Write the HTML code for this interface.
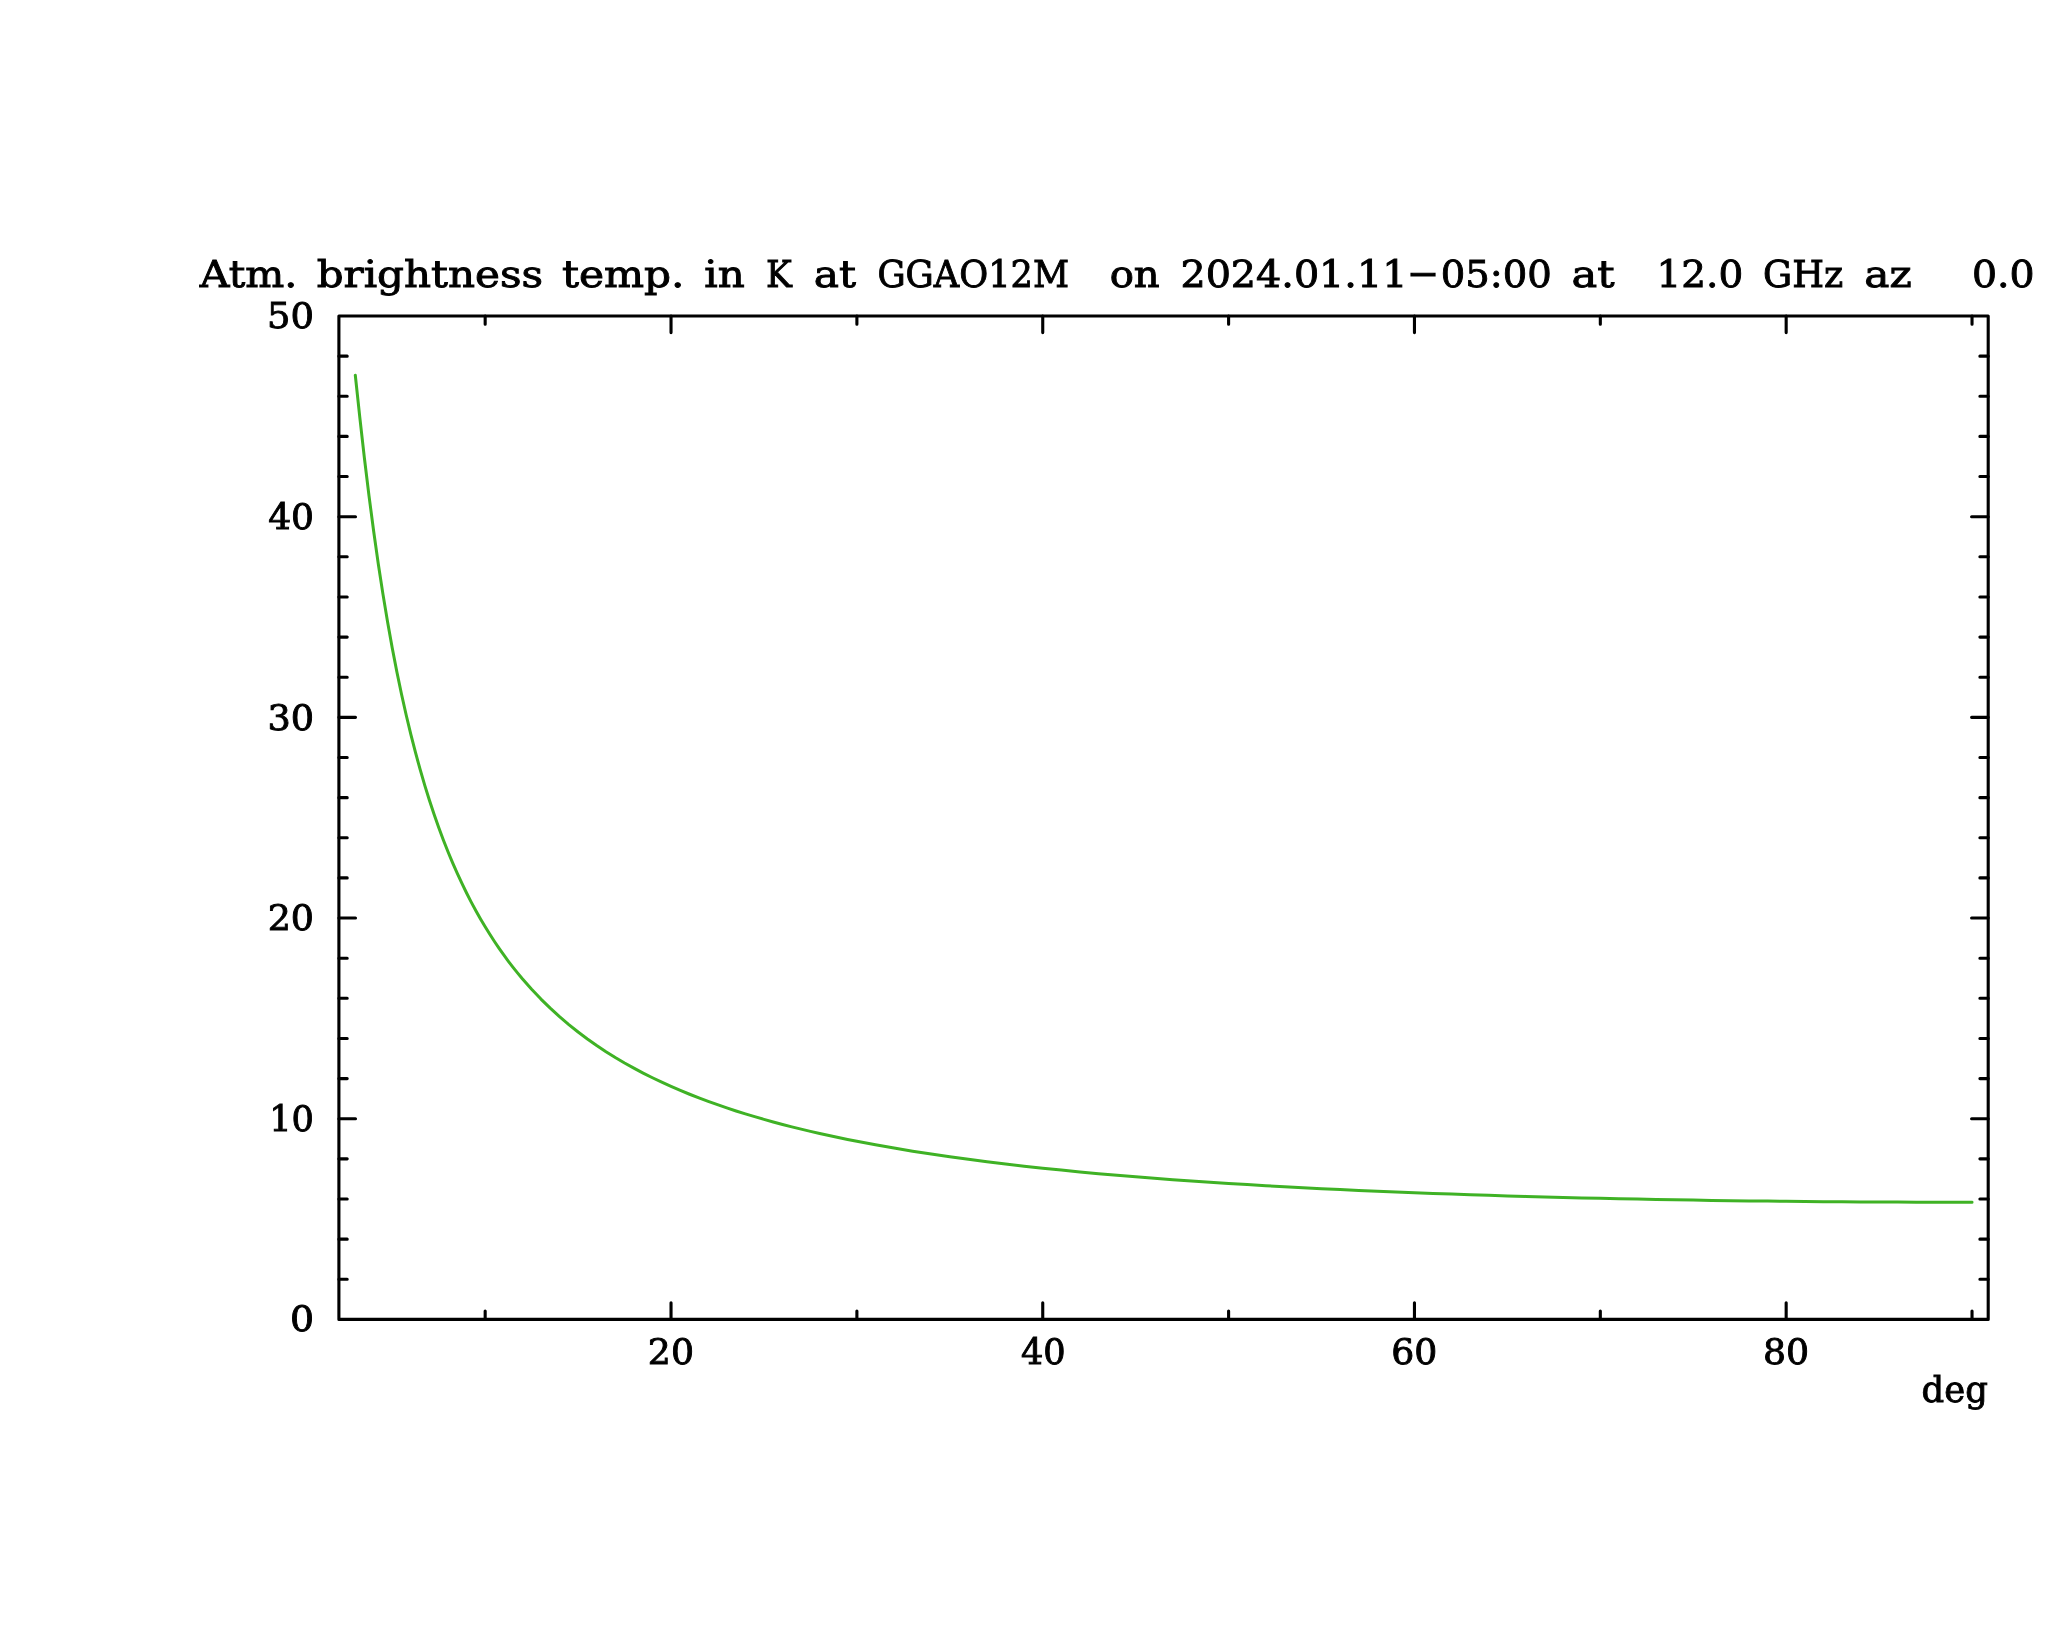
<!DOCTYPE html>
<html lang="en"><head><meta charset="utf-8"><title>Atm. brightness temp.</title>
<style>
html,body{margin:0;padding:0;background:#fff}
svg{display:block;will-change:transform}
text{font-family:"DejaVu Serif", "Liberation Serif", serif;fill:#000;white-space:pre}
.ax{stroke:#000;stroke-width:3.1;stroke-linecap:round;stroke-linejoin:round;fill:none}
.cv{stroke:#3fb225;stroke-width:3.0;stroke-linecap:round;stroke-linejoin:round;fill:none}
</style></head><body>
<svg width="2048" height="1635" viewBox="0 0 2048 1635" role="img" aria-label="Atmospheric brightness temperature versus elevation">
<rect width="2048" height="1635" fill="#fff"/>
<path class="ax" d="M338.90 316.00H1988.20V1319.40H338.90Z"/>
<path class="ax" d="M485.17 1319.40v-8.30M485.17 316.00v8.30M671.03 1319.40v-16.60M671.03 316.00v16.60M856.89 1319.40v-8.30M856.89 316.00v8.30M1042.74 1319.40v-16.60M1042.74 316.00v16.60M1228.60 1319.40v-8.30M1228.60 316.00v8.30M1414.46 1319.40v-16.60M1414.46 316.00v16.60M1600.32 1319.40v-8.30M1600.32 316.00v8.30M1786.17 1319.40v-16.60M1786.17 316.00v16.60M1972.03 1319.40v-8.30M1972.03 316.00v8.30M338.90 1279.26h8.30M1988.20 1279.26h-8.30M338.90 1239.13h8.30M1988.20 1239.13h-8.30M338.90 1198.99h8.30M1988.20 1198.99h-8.30M338.90 1158.86h8.30M1988.20 1158.86h-8.30M338.90 1118.72h16.60M1988.20 1118.72h-16.60M338.90 1078.58h8.30M1988.20 1078.58h-8.30M338.90 1038.45h8.30M1988.20 1038.45h-8.30M338.90 998.31h8.30M1988.20 998.31h-8.30M338.90 958.18h8.30M1988.20 958.18h-8.30M338.90 918.04h16.60M1988.20 918.04h-16.60M338.90 877.90h8.30M1988.20 877.90h-8.30M338.90 837.77h8.30M1988.20 837.77h-8.30M338.90 797.63h8.30M1988.20 797.63h-8.30M338.90 757.50h8.30M1988.20 757.50h-8.30M338.90 717.36h16.60M1988.20 717.36h-16.60M338.90 677.22h8.30M1988.20 677.22h-8.30M338.90 637.09h8.30M1988.20 637.09h-8.30M338.90 596.95h8.30M1988.20 596.95h-8.30M338.90 556.82h8.30M1988.20 556.82h-8.30M338.90 516.68h16.60M1988.20 516.68h-16.60M338.90 476.54h8.30M1988.20 476.54h-8.30M338.90 436.41h8.30M1988.20 436.41h-8.30M338.90 396.27h8.30M1988.20 396.27h-8.30M338.90 356.14h8.30M1988.20 356.14h-8.30"/>
<polyline class="cv" points="355.30,375.24 359.72,416.70 364.36,457.73 369.01,495.89 373.66,531.24 378.30,563.93 382.95,594.14 387.59,622.09 392.24,647.97 396.89,671.98 401.53,694.28 406.18,715.04 410.83,734.40 415.47,752.49 420.12,769.42 424.77,785.30 429.41,800.21 434.06,814.23 438.71,827.45 443.35,839.93 448.00,851.71 452.64,862.87 457.29,873.45 461.94,883.48 466.58,893.01 471.23,902.08 475.88,910.72 480.52,918.96 485.17,926.81 489.82,934.32 494.46,941.50 499.11,948.37 503.76,954.95 508.40,961.27 513.05,967.32 517.69,973.14 522.34,978.73 531.63,989.28 540.93,999.06 550.22,1008.17 559.51,1016.65 568.81,1024.58 578.10,1032.00 587.39,1038.96 596.68,1045.51 605.98,1051.67 615.27,1057.48 624.56,1062.98 633.86,1068.17 643.15,1073.09 652.44,1077.76 661.73,1082.19 671.03,1086.41 680.32,1090.42 689.61,1094.25 698.91,1097.90 708.20,1101.38 717.49,1104.71 726.78,1107.90 736.08,1110.95 745.37,1113.88 754.66,1116.68 763.96,1119.37 773.25,1121.96 782.54,1124.45 791.83,1126.84 801.13,1129.14 810.42,1131.35 819.71,1133.49 829.01,1135.55 838.30,1137.53 847.59,1139.45 856.89,1141.30 875.47,1144.82 894.06,1148.10 912.64,1151.18 931.23,1154.07 949.81,1156.79 968.40,1159.34 986.99,1161.75 1005.57,1164.02 1024.16,1166.16 1042.74,1168.19 1061.33,1170.11 1079.91,1171.92 1098.50,1173.64 1117.09,1175.27 1135.67,1176.82 1154.26,1178.29 1172.84,1179.69 1191.43,1181.02 1210.01,1182.28 1228.60,1183.48 1247.19,1184.62 1265.77,1185.71 1284.36,1186.75 1302.94,1187.73 1321.53,1188.67 1340.11,1189.57 1358.70,1190.42 1377.29,1191.23 1395.87,1192.00 1414.46,1192.74 1433.04,1193.43 1451.63,1194.10 1470.21,1194.73 1488.80,1195.33 1507.39,1195.90 1525.97,1196.43 1544.56,1196.94 1563.14,1197.43 1581.73,1197.88 1600.32,1198.31 1618.90,1198.72 1637.49,1199.10 1656.07,1199.45 1674.66,1199.78 1693.24,1200.09 1711.83,1200.38 1730.42,1200.65 1749.00,1200.89 1767.59,1201.12 1786.17,1201.32 1804.76,1201.50 1823.34,1201.67 1841.93,1201.81 1860.52,1201.93 1879.10,1202.04 1897.69,1202.12 1916.27,1202.19 1934.86,1202.23 1953.44,1202.26 1972.03,1202.27"/>
<text font-size="37.4" y="287.0" stroke="#000" stroke-width="0.9"><tspan x="199.80" textLength="97.66" lengthAdjust="spacingAndGlyphs">Atm.</tspan> <tspan x="316.70" textLength="226.35" lengthAdjust="spacingAndGlyphs">brightness</tspan> <tspan x="561.90" textLength="122.63" lengthAdjust="spacingAndGlyphs">temp.</tspan> <tspan x="704.31" textLength="40.50" lengthAdjust="spacingAndGlyphs">in</tspan> <tspan x="766.11" textLength="25.85" lengthAdjust="spacingAndGlyphs">K</tspan> <tspan x="813.87" textLength="42.25" lengthAdjust="spacingAndGlyphs">at</tspan> <tspan x="877.44" textLength="191.66" lengthAdjust="spacingAndGlyphs">GGAO12M</tspan>  <tspan x="1109.67" textLength="50.10" lengthAdjust="spacingAndGlyphs">on</tspan> <tspan x="1180.42" textLength="227.00" lengthAdjust="spacingAndGlyphs">2024.01.11</tspan><tspan x="1407.50" y="284.79" textLength="31.08" lengthAdjust="spacingAndGlyphs">-</tspan><tspan x="1440.67" y="287.0" textLength="111.06" lengthAdjust="spacingAndGlyphs">05:00</tspan> <tspan x="1571.53" textLength="43.08" lengthAdjust="spacingAndGlyphs">at</tspan>  <tspan x="1656.56" textLength="86.74" lengthAdjust="spacingAndGlyphs">12.0</tspan> <tspan x="1763.09" textLength="80.19" lengthAdjust="spacingAndGlyphs">GHz</tspan> <tspan x="1864.27" textLength="47.43" lengthAdjust="spacingAndGlyphs">az</tspan>   <tspan x="1971.93" textLength="62.65" lengthAdjust="spacingAndGlyphs">0.0</tspan></text>
<text x="267.05" y="328.40" font-size="35.0" stroke="#000" stroke-width="0.9" textLength="47.04" lengthAdjust="spacingAndGlyphs">50</text>
<text x="268.16" y="529.30" font-size="35.0" stroke="#000" stroke-width="0.9" textLength="45.88" lengthAdjust="spacingAndGlyphs">40</text>
<text x="267.44" y="729.50" font-size="35.0" stroke="#000" stroke-width="0.9" textLength="46.63" lengthAdjust="spacingAndGlyphs">30</text>
<text x="267.70" y="930.40" font-size="35.0" stroke="#000" stroke-width="0.9" textLength="46.36" lengthAdjust="spacingAndGlyphs">20</text>
<text x="269.17" y="1130.60" font-size="35.0" stroke="#000" stroke-width="0.9" textLength="44.82" lengthAdjust="spacingAndGlyphs">10</text>
<text x="290.08" y="1331.00" font-size="35.0" stroke="#000" stroke-width="0.9" textLength="24.08" lengthAdjust="spacingAndGlyphs">0</text>
<text x="647.84" y="1364.40" font-size="35.0" stroke="#000" stroke-width="0.9" textLength="46.14" lengthAdjust="spacingAndGlyphs">20</text>
<text x="1020.92" y="1364.40" font-size="35.0" stroke="#000" stroke-width="0.9" textLength="44.71" lengthAdjust="spacingAndGlyphs">40</text>
<text x="1391.29" y="1364.40" font-size="35.0" stroke="#000" stroke-width="0.9" textLength="46.12" lengthAdjust="spacingAndGlyphs">60</text>
<text x="1762.92" y="1364.40" font-size="35.0" stroke="#000" stroke-width="0.9" textLength="46.20" lengthAdjust="spacingAndGlyphs">80</text>
<text x="1921.61" y="1402.45" font-size="34.8" stroke="#000" stroke-width="0.9" textLength="66.32" lengthAdjust="spacingAndGlyphs">deg</text>
</svg>
</body></html>
